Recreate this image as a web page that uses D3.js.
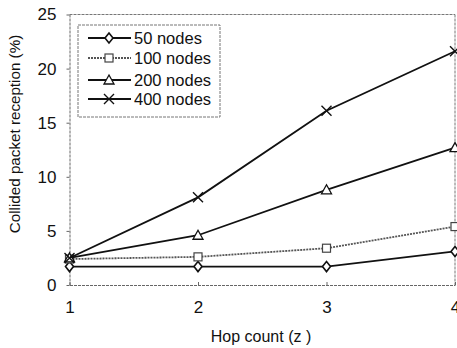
<!DOCTYPE html>
<html>
<head>
<meta charset="utf-8">
<script src="https://cdn.jsdelivr.net/npm/d3@7"></script>
<style>
body{margin:0;background:#fff}
text{font-family:"Liberation Sans",Arial,sans-serif;fill:#111}
</style>
</head>
<body>
<script>
var width = 457, height = 348;

var hops = [1, 2, 3, 4];
var names = ["50 nodes", "100 nodes", "200 nodes", "400 nodes"];
var nodes50 = [1.7, 1.7, 1.7, 3.1];
var nodes100 = [2.4, 2.6, 3.4, 5.4];
var nodes200 = [2.5, 4.6, 8.8, 12.7];
var nodes400 = [2.5, 8.1, 16.1, 21.6];
var yTicks = [0, 5, 10, 15, 20, 25];

var series = [
  {name: names[0], values: nodes50, sym: "diamond", col: "#111", dash: null},
  {name: names[1], values: nodes100, sym: "square", col: "#555", dash: "2,1"},
  {name: names[2], values: nodes200, sym: "triangle", col: "#111", dash: null},
  {name: names[3], values: nodes400, sym: "cross", col: "#111", dash: null}
];

var svg = d3.select("body").append("svg").attr("width", width).attr("height", height);

var x = d3.scaleLinear().domain([1, 4]).range([69.5, 455]);
var y = d3.scaleLinear().domain([0, 25]).range([285, 14.5]);

// frame (top and right, scanned-looking dotted)
svg.append("line").attr("x1", x(1)).attr("x2", x(4)).attr("y1", y(25)).attr("y2", y(25))
  .attr("stroke", "#777").attr("stroke-dasharray", "3,1");
svg.append("line").attr("x1", x(4)).attr("x2", x(4)).attr("y1", y(25)).attr("y2", y(0))
  .attr("stroke", "#777").attr("stroke-dasharray", "3,1");

var yAxis = svg.append("g").attr("transform", "translate(" + x(1) + ",0)")
  .call(d3.axisLeft(y).tickValues(yTicks).tickSize(3).tickSizeOuter(0));
var xAxis = svg.append("g").attr("transform", "translate(0," + y(0) + ")")
  .call(d3.axisBottom(x).tickValues(hops).tickFormat(d3.format("d")).tickSize(-3).tickSizeOuter(0));

[yAxis, xAxis].forEach(function(a){
  a.select(".domain").attr("stroke", "#666").attr("stroke-dasharray", "3,1");
  a.selectAll(".tick line").attr("stroke", "#666");
  a.selectAll(".tick text").attr("font-family", "Liberation Sans, Arial, sans-serif")
    .attr("font-size", 17).attr("fill", "#111");
});
yAxis.selectAll(".tick text").attr("x", -13);
xAxis.selectAll(".tick text").attr("y", 16);

svg.append("text").attr("transform", "translate(20,134) rotate(-90)")
  .attr("text-anchor", "middle").attr("font-size", 15.2).text("Collided packet reception (%)");
svg.append("text").attr("x", 261).attr("y", 342)
  .attr("text-anchor", "middle").attr("font-size", 16).text("Hop count (z )");

function drawSym(g, sym, cx, cy){
  if (sym === "diamond") {
    g.append("path").attr("d", "M" + cx + "," + (cy - 5) + "L" + (cx + 4) + "," + cy + "L" + cx + "," + (cy + 5) + "L" + (cx - 4) + "," + cy + "Z")
      .attr("fill", "#fff").attr("stroke", "#111").attr("stroke-width", 1.6);
  } else if (sym === "square") {
    g.append("rect").attr("x", cx - 4).attr("y", cy - 4).attr("width", 8).attr("height", 8)
      .attr("fill", "#fff").attr("stroke", "#444").attr("stroke-width", 1.2);
  } else if (sym === "triangle") {
    g.append("path").attr("d", "M" + cx + "," + (cy - 5) + "L" + (cx + 5) + "," + (cy + 4) + "L" + (cx - 5) + "," + (cy + 4) + "Z")
      .attr("fill", "#fff").attr("stroke", "#111").attr("stroke-width", 1.3);
  } else {
    g.append("path").attr("d", "M" + (cx - 5) + "," + (cy - 5) + "L" + (cx + 5) + "," + (cy + 5) + "M" + (cx + 5) + "," + (cy - 5) + "L" + (cx - 5) + "," + (cy + 5))
      .attr("stroke", "#111").attr("stroke-width", 1.4);
  }
}

var line = d3.line().x(function(d, i){ return x(hops[i]); }).y(function(d){ return y(d); });

series.forEach(function(s){
  var g = svg.append("g");
  g.append("path").datum(s.values).attr("d", line).attr("fill", "none")
    .attr("stroke", s.col).attr("stroke-width", 1.8).attr("stroke-dasharray", s.dash);
  s.values.forEach(function(v, i){ drawSym(g, s.sym, x(hops[i]), y(v)); });
});

// legend
var lg = svg.append("g");
lg.append("rect").attr("x", 78).attr("y", 25).attr("width", 142).attr("height", 92)
  .attr("fill", "#fff").attr("stroke", "#777").attr("stroke-dasharray", "3,1");
var ly = [38, 58, 80, 99];
series.forEach(function(s, i){
  lg.append("line").attr("x1", 88).attr("x2", 131).attr("y1", ly[i]).attr("y2", ly[i])
    .attr("stroke", s.col).attr("stroke-width", 1.8).attr("stroke-dasharray", s.dash);
  drawSym(lg, s.sym, 109, ly[i]);
  lg.append("text").attr("x", 134).attr("y", ly[i] + 6).attr("font-size", 16.5).text(s.name);
});
</script>
</body>
</html>
